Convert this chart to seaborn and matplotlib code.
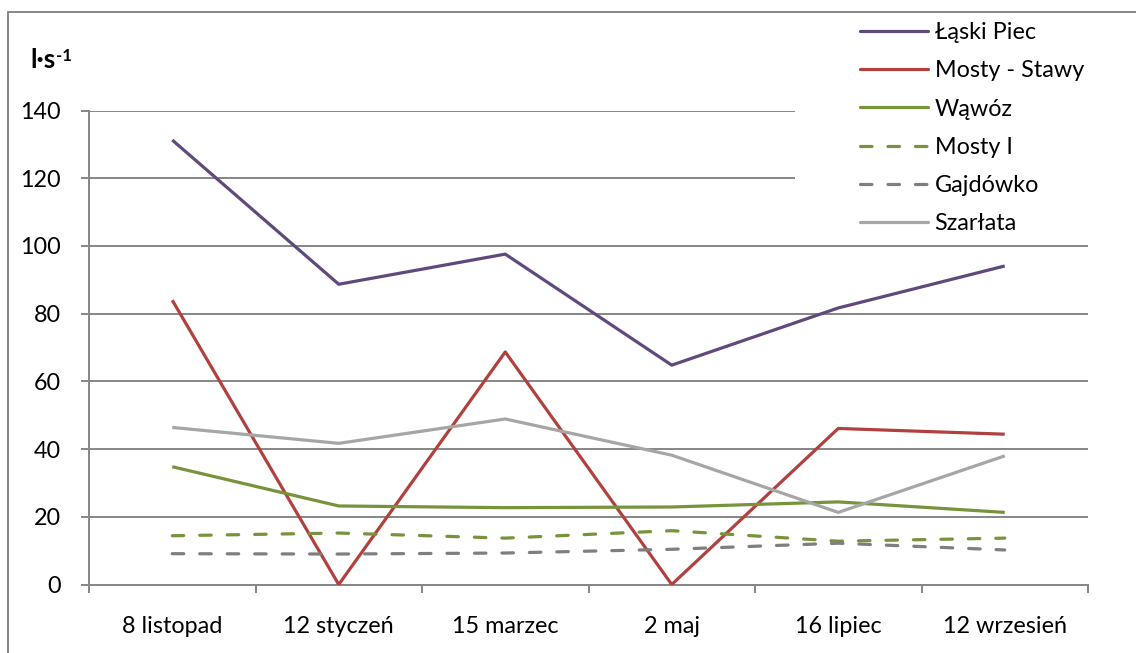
import matplotlib
matplotlib.use("Agg")
import matplotlib.pyplot as plt
from matplotlib.lines import Line2D
from matplotlib.patches import Rectangle
import numpy as np
import pandas as pd
import seaborn as sns

# Measurement dates
dates = ["8 listopad", "12 styczeń", "15 marzec", "2 maj", "16 lipiec", "12 wrzesień"]

# Discharge, l·s⁻¹
laski_piec = [131.3, 88.7, 97.6, 64.8, 81.7, 94.1]
mosty_stawy = [84.0, 0.0, 68.7, 0.0, 46.1, 44.4]
wawoz = [34.8, 23.2, 22.7, 22.9, 24.4, 21.3]
mosty_i = [14.4, 15.2, 13.7, 15.9, 12.8, 13.7]
gajdowko = [9.1, 9.0, 9.3, 10.4, 12.2, 10.2]
szarlata = [46.4, 41.7, 48.9, 38.2, 21.3, 38.0]

series = ["Łąski Piec", "Mosty - Stawy", "Wąwóz", "Mosty I", "Gajdówko", "Szarłata"]
values = [laski_piec, mosty_stawy, wawoz, mosty_i, gajdowko, szarlata]
colors = ["#604A7B", "#B0413E", "#77933C", "#77933C", "#7F7F7F", "#A6A6A6"]
dashed = [False, False, False, True, True, False]

y_ticks = [0, 20, 40, 60, 80, 100, 120, 140]

df = pd.DataFrame(
    [(s, d, v) for s, vals in zip(series, values) for d, v in zip(dates, vals)],
    columns=["stacja", "data", "przeplyw"],
)

sns.set_theme(style="white")
plt.rcParams["font.family"] = ["Lato", "DejaVu Sans"]

W, H = 1136, 653
FS = 16.8
fig = plt.figure(figsize=(W / 100, H / 100), dpi=100)
ax = fig.add_axes([89 / W, 1 - 584.5 / H, (1088 - 89) / W, (584.5 - 110.6) / H])

grid_c = "#868686"
lw = 2.3
dash_pat = (3.6, 5.0)

for name, col, dsh in zip(series, colors, dashed):
    sub = df[df["stacja"] == name]
    sns.lineplot(
        data=sub, x="data", y="przeplyw", ax=ax, color=col, linewidth=lw,
        sort=False, legend=False, zorder=3,
    )
    ln = ax.lines[-1]
    if dsh:
        ln.set_dashes(dash_pat)
        ln.set_dash_capstyle("round")
    ln.set_solid_capstyle("butt")

ax.set_xlim(-0.5, len(dates) - 0.5)
ax.set_ylim(0, 140)
ax.set_yticks(y_ticks)
ax.set_xticks(range(len(dates)))
ax.set_xticklabels(dates)
ax.set_xticks(np.arange(-0.5, len(dates), 1.0), minor=True)
ax.set_xlabel("")
ax.set_ylabel("")

ax.yaxis.grid(True, color=grid_c, linewidth=1.4)
ax.xaxis.grid(False)
ax.set_axisbelow(True)

for s in ["top", "right"]:
    ax.spines[s].set_visible(False)
for s in ["left", "bottom"]:
    ax.spines[s].set_color(grid_c)
    ax.spines[s].set_linewidth(1.4)

ax.tick_params(axis="y", which="major", left=True, length=6, width=1.4, color=grid_c,
               labelsize=FS, pad=14, labelcolor="black")
ax.tick_params(axis="x", which="major", bottom=False, length=0, labelsize=FS,
               pad=23, labelcolor="black")
ax.tick_params(axis="x", which="minor", bottom=True, length=6, width=1.4, color=grid_c)

# white legend area that hides the upper gridlines
ax.add_patch(Rectangle(((795 - 89) / 999, (584.5 - 240) / 474), 0.4,
                       (240 - 15) / 474, transform=ax.transAxes,
                       facecolor="white", edgecolor="none", zorder=1.5, clip_on=False))

handles = []
for name, col, dsh in zip(series, colors, dashed):
    h = Line2D([], [], color=col, linewidth=lw)
    if dsh:
        h.set_dashes(dash_pat)
        h.set_dash_capstyle("round")
    handles.append(h)
leg = ax.legend(handles, series, loc="upper left", frameon=False, fontsize=FS,
                bbox_to_anchor=(860 / W, 1 - 22 / H), bbox_transform=fig.transFigure,
                borderpad=0, borderaxespad=0, handlelength=2.9, handletextpad=0.3,
                labelspacing=0.74)
for t in leg.get_texts():
    t.set_color("black")

# unit label
t = fig.text(30 / W, 1 - 60 / H, "l·s", fontsize=19, fontweight="bold",
             va="center", ha="left", color="black")
ax.annotate("-1", xy=(1, 1), xycoords=t, xytext=(0.5, 0), textcoords="offset points",
            fontsize=12, fontweight="bold", va="top", ha="left", color="black")

# outer chart frame
fig.add_artist(Line2D([8 / W, 8 / W], [0, 1 - 12 / H], color=grid_c, linewidth=1.4,
                      transform=fig.transFigure))
fig.add_artist(Line2D([8 / W, 1], [1 - 12 / H, 1 - 12 / H], color=grid_c, linewidth=1.4,
                      transform=fig.transFigure))

fig.savefig("out.png", dpi=100, facecolor="white")
